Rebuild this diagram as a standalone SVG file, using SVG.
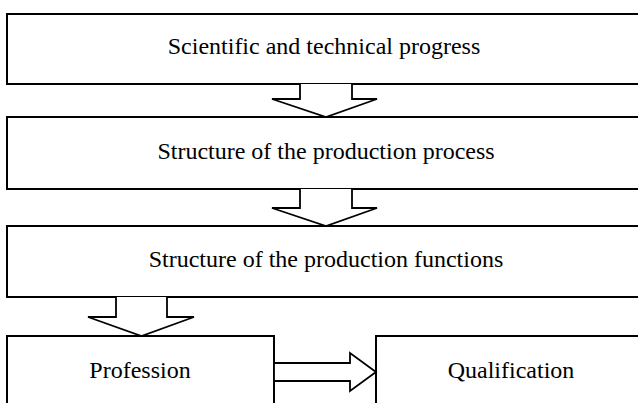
<svg xmlns="http://www.w3.org/2000/svg" width="638" height="403" viewBox="0 0 638 403">
<style>
.box{fill:#fff;stroke:#000;stroke-width:2}
.arr{fill:#fff;stroke:#000;stroke-width:1.8;stroke-linejoin:miter}
.lbl{font-family:"Liberation Serif","Times New Roman",serif;font-size:24px;fill:#000;text-anchor:middle}
</style>
<rect width="638" height="403" fill="#fff"/>
<g id="n1"><rect class="box" x="7" y="14" width="640" height="70"/><text class="lbl" x="324" y="54">Scientific and technical progress</text></g>
<g id="n2"><rect class="box" x="7" y="117" width="640" height="72"/><text class="lbl" x="326" y="159">Structure of the production process</text></g>
<g id="n3"><rect class="box" x="7" y="226" width="640" height="71"/><text class="lbl" x="326" y="267">Structure of the production functions</text></g>
<g id="n4"><rect class="box" x="7" y="336" width="267" height="80"/><text class="lbl" x="140" y="378">Profession</text></g>
<g id="n5"><rect class="box" x="376" y="336" width="270" height="80"/><text class="lbl" x="511" y="378">Qualification</text></g>
<g id="connectors">
<polyline class="arr" points="300,84 300,99 272,99 326,117 377,99 352,99 352,84"/>
<polyline class="arr" points="300,189 300,208 272,208 326,226 377,208 352,208 352,189"/>
<polyline class="arr" points="116,297 116,317 88,317 141.5,336 194,317 167,317 167,297"/>
<polygon class="arr" points="274,363 350,363 350,353 376,372 350,391 350,381 274,381"/>
</g>
</svg>
